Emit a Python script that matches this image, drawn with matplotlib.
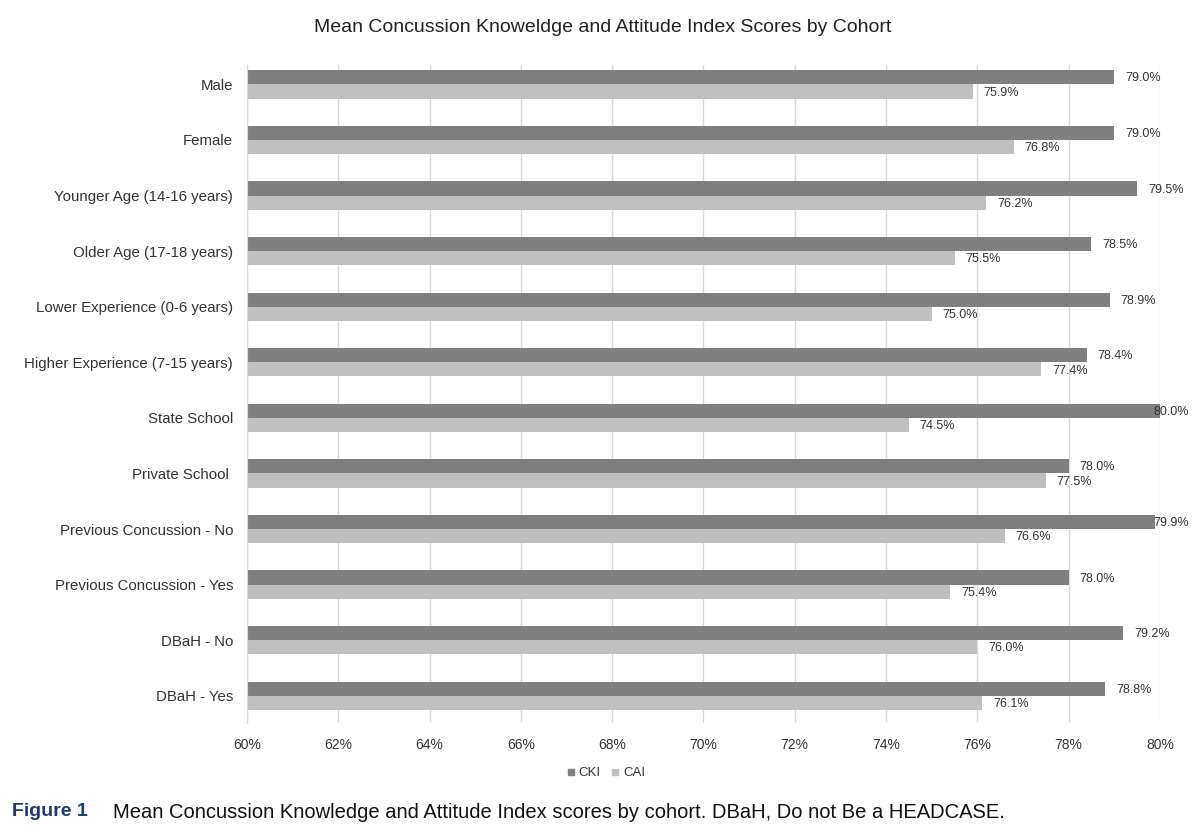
import matplotlib
matplotlib.use("Agg")
import matplotlib.pyplot as plt
from matplotlib.lines import Line2D
import numpy as np

plt.rcParams["font.family"] = ["Liberation Sans", "DejaVu Sans"]

COHORTS = ["Male", "Female", "Younger Age (14-16 years)", "Older Age (17-18 years)",
           "Lower Experience (0-6 years)", "Higher Experience (7-15 years)",
           "State School", "Private School ", "Previous Concussion - No",
           "Previous Concussion - Yes", "DBaH - No", "DBaH - Yes"]
CKI = [79.0, 79.0, 79.5, 78.5, 78.9, 78.4, 80.0, 78.0, 79.9, 78.0, 79.2, 78.8]
CAI = [75.9, 76.8, 76.2, 75.5, 75.0, 77.4, 74.5, 77.5, 76.6, 75.4, 76.0, 76.1]
XTICKS = list(range(60, 81, 2))

DARK, LIGHT, GRID, TXT = "#7f7f7f", "#c0c0c0", "#d9d9d9", "#333333"
NAVY = "#1f3a6e"

fig = plt.figure(figsize=(12, 8.35), dpi=100)
ax = fig.add_axes([0.2058, 0.1341, 0.7608, 0.7881])

y = np.arange(len(COHORTS))
h = 0.255
ax.barh(y - h / 2, [v - 60 for v in CKI], left=60, height=h, color=DARK, zorder=2)
ax.barh(y + h / 2, [v - 60 for v in CAI], left=60, height=h, color=LIGHT, zorder=2)

# value labels; the ones at the right edge get pulled back onto the bar
for yi, v in zip(y, CKI):
    ax.text(min(v + 0.24, 79.85), yi - h / 2 + 0.02, f"{v:.1f}%", va="center", ha="left",
            fontsize=9, color=TXT, zorder=3)
for yi, v in zip(y, CAI):
    ax.text(min(v + 0.24, 79.85), yi + h / 2 + 0.02, f"{v:.1f}%", va="center", ha="left",
            fontsize=9, color=TXT, zorder=3)

ax.set_xlim(60, 80)
ax.set_ylim(11.49, -0.35)
ax.set_xticks(XTICKS)
ax.set_xticklabels([f"{t}%" for t in XTICKS], fontsize=10, color=TXT)
ax.set_yticks(y)
ax.set_yticklabels(COHORTS, fontsize=10.8, color=TXT)
ax.tick_params(axis="both", length=0)
ax.tick_params(axis="y", pad=10)
ax.tick_params(axis="x", pad=11)
ax.grid(axis="x", color=GRID, linewidth=1, zorder=0)
for s in ["top", "right", "bottom"]:
    ax.spines[s].set_visible(False)
ax.spines["left"].set_color(GRID)

fig.text(0.5025, 1 - 27 / 835, "Mean Concussion Knoweldge and Attitude Index Scores by Cohort",
         ha="center", va="center", fontsize=14, color="#222222")

handles = [Line2D([], [], marker="s", linestyle="none", color=DARK, markersize=5),
           Line2D([], [], marker="s", linestyle="none", color=LIGHT, markersize=5)]
fig.legend(handles, ["CKI", "CAI"], loc="center", bbox_to_anchor=(0.505, 1 - 773 / 835),
           ncol=2, frameon=False, fontsize=9.5, handlelength=0.6, handletextpad=0.3,
           columnspacing=0.8, labelcolor=TXT)

fig.text(12 / 1200, 1 - 812 / 835, "Figure 1", ha="left", va="center", fontsize=14,
         weight="bold", color=NAVY)
fig.text(113 / 1200, 1 - 812 / 835,
         "Mean Concussion Knowledge and Attitude Index scores by cohort. DBaH, Do not Be a HEADCASE.",
         ha="left", va="center", fontsize=14.5, color="#111111")

fig.savefig("out.png", dpi=100)
